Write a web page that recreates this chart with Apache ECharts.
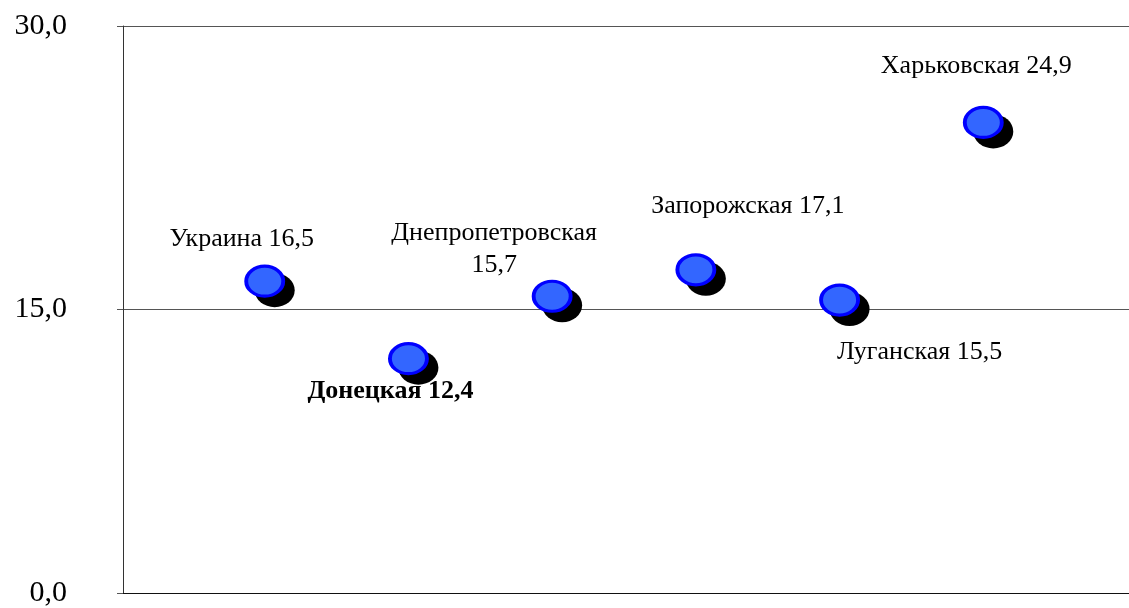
<!DOCTYPE html>
<html>
<head>
<meta charset="utf-8">
<script src="https://cdn.jsdelivr.net/npm/echarts@6/dist/echarts.min.js"></script>
<style>
  html, body { margin: 0; padding: 0; background: #fff; }
  #chart { width: 1129px; height: 608px; }
</style>
</head>
<body>
<div id="chart"></div>
<script>
// данные
const regions = ['Украина', 'Донецкая', 'Днепропетровская', 'Запорожская', 'Луганская', 'Харьковская']
const rates = [16.5, 12.4, 15.7, 17.1, 15.5, 24.9]
const yTicks = [0, 15, 30]

// где стоят подписи относительно точки
const labelOffsets = [[-23, -42], [-18, 33], [-58, -47], [52, -64], [80, 52], [-7, -56]]

const fmt = v => v.toFixed(1).replace('.', ',')
const serif = '"Liberation Serif", "DejaVu Serif", serif'

const chart = echarts.init(document.getElementById('chart'))

const coords = regions.map((name, i) => [i + 1, rates[i]])

const points = regions.map((name, i) => {
  const wrap = name.length > 12
  return {
    name: name,
    value: coords[i],
    label: {
      offset: labelOffsets[i],
      fontWeight: i === 1 ? 'bold' : 'normal',
      formatter: name + (wrap ? '\n' : ' ') + fmt(rates[i])
    }
  }
})

const option = {
  animation: false,
  grid: { left: 123, right: -9, top: 26, bottom: 13 },
  xAxis: {
    type: 'value',
    min: 0,
    max: 7,
    axisLine: { show: true, lineStyle: { color: '#111', width: 1 } },
    axisTick: { show: false },
    axisLabel: { show: false },
    splitLine: { show: false }
  },
  yAxis: {
    type: 'value',
    min: yTicks[0],
    max: yTicks[yTicks.length - 1],
    interval: yTicks[1] - yTicks[0],
    axisLine: { show: true, lineStyle: { color: '#333', width: 1 } },
    axisTick: { show: true, length: 6, lineStyle: { color: '#555' } },
    axisLabel: {
      margin: 56,
      color: '#000',
      fontFamily: serif,
      fontSize: 30,
      formatter: fmt
    },
    splitLine: { show: true, lineStyle: { color: '#555', width: 1 } }
  },
  series: [
    {
      // тень маркера
      type: 'scatter',
      data: coords,
      symbol: 'circle',
      symbolSize: [40, 34],
      symbolOffset: [8, 9],
      itemStyle: { color: '#000', opacity: 1 },
      silent: true,
      emphasis: { disabled: true }
    },
    {
      type: 'scatter',
      data: points,
      symbol: 'circle',
      symbolSize: [37, 30],
      symbolOffset: [-2, 0],
      itemStyle: {
        color: '#3366ff',
        borderColor: '#0000ff',
        borderWidth: 3.5,
        opacity: 1
      },
      label: {
        show: true,
        position: 'inside',
        color: '#000',
        fontFamily: serif,
        fontSize: 26,
        lineHeight: 32,
        align: 'center',
        verticalAlign: 'middle'
      },
      emphasis: { disabled: true }
    }
  ]
}

chart.setOption(option)
</script>
</body>
</html>
